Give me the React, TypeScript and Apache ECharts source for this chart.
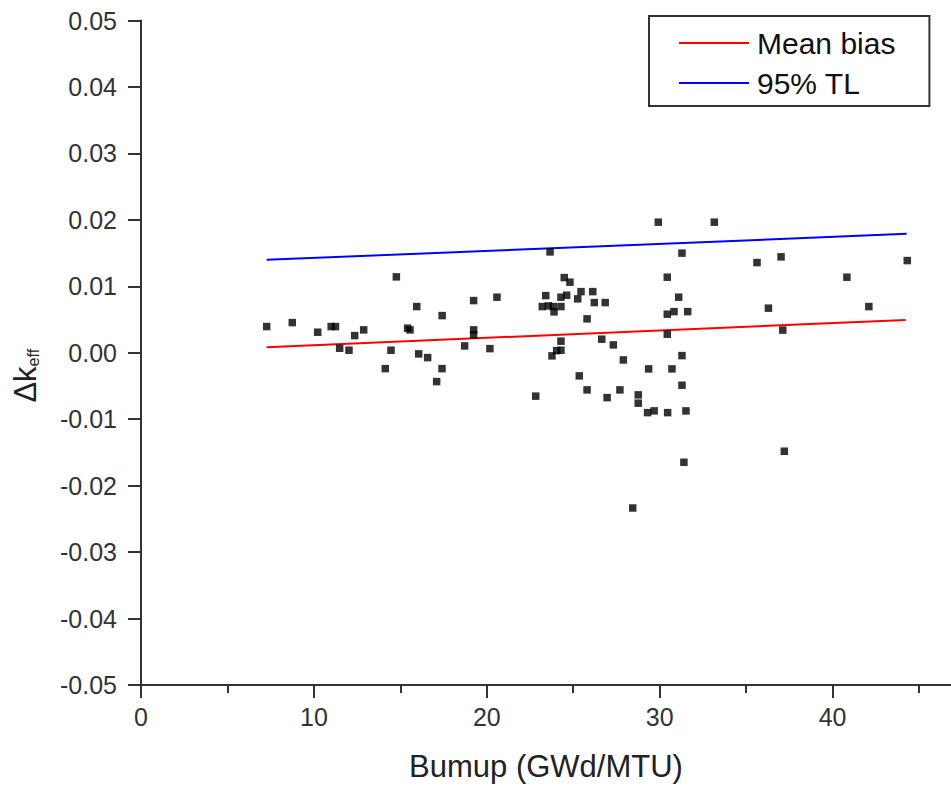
import React, { useEffect, useRef } from "react";
import * as echarts from "echarts";

// Measured points: burnup (GWd/MTU) and Δk_eff
const burnup = [
  7.27, 8.75, 10.22, 11.0, 11.25, 12.36, 12.88, 11.49, 12.03, 14.77, 14.46, 14.13,
  15.42, 15.56, 15.95, 16.06, 16.58, 17.42, 17.41, 17.1, 18.72, 19.24, 19.24, 19.24,
  20.18, 20.59, 22.83, 29.92, 33.16, 23.66, 31.29, 35.63, 37.02, 24.48, 24.81, 30.44,
  23.41, 24.29, 24.62, 25.45, 26.13, 25.26, 26.22, 26.85, 31.1, 23.21, 23.56, 23.85,
  24.29, 23.89, 25.8, 30.44, 30.83, 31.62, 36.29, 30.44, 37.12, 24.29, 24.29, 24.04,
  23.77, 26.65, 27.32, 27.9, 31.29, 25.35, 29.36, 30.71, 31.29, 25.8, 26.96, 27.7,
  28.76, 28.76, 29.3, 29.68, 30.46, 31.52, 37.21, 31.4, 28.44, 44.32, 40.83, 42.1,
];
const deltaK = [
  0.00394, 0.00454, 0.00309, 0.00394, 0.00394, 0.00258, 0.00344, 0.00068, 0.00038, 0.01142, 0.00038, -0.00239,
  0.0037, 0.00344, 0.00695, -0.00017, -0.00073, 0.00559, -0.00239, -0.00434, 0.00103, 0.00785, 0.00344, 0.00269,
  0.00062, 0.00836, -0.00653, 0.01965, 0.01965, 0.01518, 0.01499, 0.01357, 0.01443, 0.01131, 0.01062, 0.01137,
  0.0086, 0.00836, 0.00866, 0.0092, 0.0092, 0.00811, 0.00755, 0.00755, 0.00836, 0.00695, 0.00705, 0.00695,
  0.00695, 0.00615, 0.0051, 0.0058, 0.00619, 0.00619, 0.00671, 0.00279, 0.00341, 0.00174, 0.00038, 0.00032,
  -0.00047, 0.00204, 0.00118, -0.00108, -0.00043, -0.00348, -0.00243, -0.00243, -0.00489, -0.00559, -0.00675, -0.00559,
  -0.00634, -0.00759, -0.00901, -0.00875, -0.00901, -0.00875, -0.01482, -0.01648, -0.02336, 0.01387, 0.01137, 0.00695,
];

const meanBiasX = [7.27, 44.23];
const meanBiasY = [0.00083, 0.00494];
const tlX = [7.27, 44.29];
const tlY = [0.01398, 0.01789];

const xMajorTicks = [0, 10, 20, 30, 40];
const xMinorTicks = [5, 15, 25, 35, 45];
const legendNames = ["Mean bias", "95% TL"];

const FONT = "'Liberation Sans', Arial, sans-serif";

export default function App() {
  const ref = useRef<HTMLDivElement>(null);

  useEffect(() => {
    if (!ref.current) return;
    const chart = echarts.init(ref.current, undefined, { renderer: "svg" });
    const scatterData = burnup.map((x, i) => [x, deltaK[i]]);
    const option = {
      animation: false,
      backgroundColor: "#ffffff",
      textStyle: { fontFamily: FONT },
      grid: { left: 141, right: 0, top: 20.5, bottom: 103, containLabel: false },
      legend: {
        data: legendNames,
        orient: "vertical",
        left: 649,
        top: 16,
        padding: [12, 34, 8, 30],
        icon: "rect",
        itemWidth: 70,
        itemHeight: 2,
        itemGap: 10,
        borderColor: "#333",
        borderWidth: 2,
        backgroundColor: "#fff",
        textStyle: { fontSize: 30, color: "#111", fontFamily: FONT, lineHeight: 28, padding: [0, 0, 0, 3] },
      },
      xAxis: [
        {
          type: "value",
          min: 0,
          max: 46.85,
          interval: 10,
          name: "Bumup (GWd/MTU)",
          nameLocation: "middle",
          nameGap: 66,
          nameTextStyle: { fontSize: 31, color: "#222", fontFamily: FONT },
          axisLine: { show: true, onZero: false, lineStyle: { color: "#333", width: 2 } },
          axisTick: { show: true, length: 13, customValues: xMajorTicks, lineStyle: { color: "#333", width: 2 } },
          axisLabel: {
            fontSize: 25,
            color: "#333",
            margin: 19,
            fontFamily: FONT,
            customValues: xMajorTicks,
            formatter: (v: number) => String(Math.round(v)),
          },
          splitLine: { show: false },
        },
        {
          type: "value",
          min: 0,
          max: 46.85,
          interval: 5,
          position: "bottom",
          axisLine: { show: false, onZero: false },
          axisTick: { show: true, length: 8, customValues: xMinorTicks, lineStyle: { color: "#333", width: 2 } },
          axisLabel: { show: false },
          splitLine: { show: false },
        },
      ],
      yAxis: {
        type: "value",
        min: -0.05,
        max: 0.05,
        interval: 0.01,
        name: "{a|Δk}{b|eff}",
        nameLocation: "middle",
        nameRotate: 90,
        nameGap: 100,
        nameTextStyle: {
          padding: [0, 46, 0, 0],
          rich: {
            a: { fontSize: 31, color: "#222", fontFamily: FONT },
            b: { fontSize: 16, color: "#222", fontFamily: FONT, verticalAlign: "bottom", padding: [12, 0, 0, 0] },
          },
        },
        axisLine: { show: true, onZero: false, lineStyle: { color: "#333", width: 2 } },
        axisTick: { show: true, length: 13, lineStyle: { color: "#333", width: 2 } },
        axisLabel: {
          fontSize: 25,
          color: "#333",
          margin: 24,
          fontFamily: FONT,
          formatter: (v: number) => v.toFixed(2),
        },
        splitLine: { show: false },
      },
      series: [
        {
          name: "data",
          type: "scatter",
          xAxisIndex: 0,
          symbol: "rect",
          symbolSize: 7.5,
          itemStyle: { color: "#000" },
          data: scatterData,
          z: 3,
        },
        {
          name: legendNames[0],
          type: "line",
          xAxisIndex: 0,
          symbol: "none",
          lineStyle: { color: "#ff0000", width: 2 },
          itemStyle: { color: "#ff0000" },
          data: meanBiasX.map((x, i) => [x, meanBiasY[i]]),
          z: 2,
        },
        {
          name: legendNames[1],
          type: "line",
          xAxisIndex: 0,
          symbol: "none",
          lineStyle: { color: "#0000ff", width: 2 },
          itemStyle: { color: "#0000ff" },
          data: tlX.map((x, i) => [x, tlY[i]]),
          z: 2,
        },
      ],
    };
    chart.setOption(option as any);
    return () => chart.dispose();
  }, []);

  return (
    <div
      ref={ref}
      style={{ position: "absolute", left: 0, top: 0, width: 951, height: 788 }}
    />
  );
}
